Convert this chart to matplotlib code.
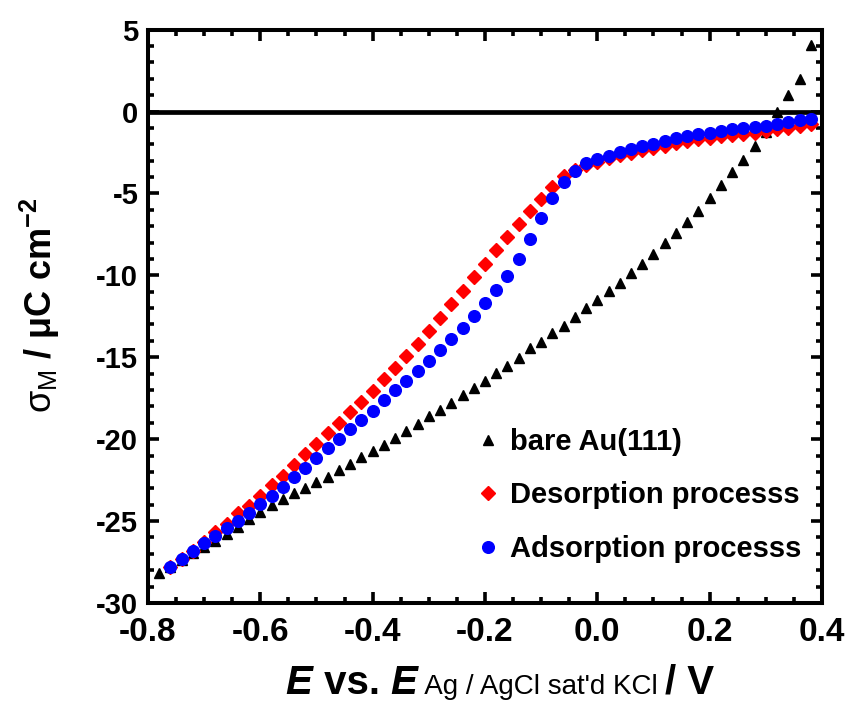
import matplotlib
matplotlib.use("Agg")
import matplotlib.pyplot as plt
from matplotlib import font_manager
from matplotlib.ticker import MultipleLocator
from matplotlib.offsetbox import TextArea, HPacker, AnchoredOffsetbox
import numpy as np

# ---------------- data ----------------
E_bare = [-0.78, -0.76, -0.74, -0.72, -0.70, -0.68, -0.66, -0.64, -0.62, -0.60,
          -0.58, -0.56, -0.54, -0.52, -0.50, -0.48, -0.46, -0.44, -0.42, -0.40,
          -0.38, -0.36, -0.34, -0.32, -0.30, -0.28, -0.26, -0.24, -0.22, -0.20,
          -0.18, -0.16, -0.14, -0.12, -0.10, -0.08, -0.06, -0.04, -0.02, 0.00,
          0.02, 0.04, 0.06, 0.08, 0.10, 0.12, 0.14, 0.16, 0.18, 0.20,
          0.22, 0.24, 0.26, 0.28, 0.30, 0.32, 0.34, 0.36, 0.38]
sigma_bare = [-28.15, -27.79, -27.38, -26.97, -26.57, -26.22, -25.81, -25.35, -24.88, -24.43,
              -24.02, -23.66, -23.27, -22.97, -22.64, -22.29, -21.89, -21.54, -21.10, -20.72,
              -20.34, -19.91, -19.49, -19.08, -18.59, -18.22, -17.78, -17.29, -16.90, -16.45,
              -15.95, -15.54, -15.03, -14.42, -14.05, -13.54, -13.07, -12.53, -12.02, -11.51,
              -10.96, -10.49, -9.88, -9.33, -8.72, -8.01, -7.44, -6.75, -6.06, -5.28,
              -4.49, -3.72, -2.96, -2.11, -1.23, 0.00, 1.01, 1.97, 4.04]

E_proc = [-0.76, -0.74, -0.72, -0.70, -0.68, -0.66, -0.64, -0.62, -0.60, -0.58,
          -0.56, -0.54, -0.52, -0.50, -0.48, -0.46, -0.44, -0.42, -0.40, -0.38,
          -0.36, -0.34, -0.32, -0.30, -0.28, -0.26, -0.24, -0.22, -0.20, -0.18,
          -0.16, -0.14, -0.12, -0.10, -0.08, -0.06, -0.04, -0.02, 0.00, 0.02,
          0.04, 0.06, 0.08, 0.10, 0.12, 0.14, 0.16, 0.18, 0.20, 0.22,
          0.24, 0.26, 0.28, 0.30, 0.32, 0.34, 0.36, 0.38]
sigma_desorption = [-27.79, -27.34, -26.83, -26.26, -25.69, -25.20, -24.53, -24.06, -23.47, -22.80,
                    -22.25, -21.58, -20.92, -20.28, -19.65, -18.99, -18.33, -17.72, -17.06, -16.35,
                    -15.64, -14.93, -14.19, -13.40, -12.63, -11.77, -10.96, -10.12, -9.29, -8.46,
                    -7.64, -6.89, -6.07, -5.34, -4.63, -3.94, -3.57, -3.27, -3.06, -2.86,
                    -2.66, -2.51, -2.37, -2.23, -2.11, -1.94, -1.80, -1.68, -1.60, -1.50,
                    -1.43, -1.37, -1.29, -1.19, -1.09, -0.99, -0.89, -0.76]
sigma_adsorption = [-27.79, -27.34, -26.83, -26.36, -25.92, -25.45, -24.98, -24.49, -23.98, -23.47,
                    -22.94, -22.33, -21.78, -21.16, -20.52, -19.99, -19.40, -18.83, -18.27, -17.61,
                    -17.00, -16.45, -15.82, -15.21, -14.56, -13.91, -13.24, -12.47, -11.71, -10.92,
                    -10.02, -9.03, -7.80, -6.48, -5.30, -4.28, -3.61, -3.16, -2.90, -2.70,
                    -2.49, -2.27, -2.11, -1.98, -1.78, -1.64, -1.50, -1.39, -1.29, -1.17,
                    -1.07, -1.01, -0.93, -0.86, -0.78, -0.66, -0.54, -0.46]

labels = ["bare Au(111)", "Desorption processs", "Adsorption processs"]
x_ticks = [-0.8, -0.6, -0.4, -0.2, 0.0, 0.2, 0.4]
y_ticks = [5, 0, -5, -10, -15, -20, -25, -30]

# ---------------- fonts ----------------
names = {f.name for f in font_manager.fontManager.ttflist}
BASE = "Liberation Sans" if "Liberation Sans" in names else "DejaVu Sans"

plt.rcParams["font.family"] = [BASE, "DejaVu Sans"]
plt.rcParams["mathtext.fontset"] = "custom"
plt.rcParams["mathtext.rm"] = BASE
plt.rcParams["mathtext.it"] = BASE + ":italic"
plt.rcParams["mathtext.bf"] = BASE + ":bold"

fig = plt.figure(figsize=(8.48, 7.08), dpi=100)
ax = fig.add_axes([148 / 848, 1 - 603 / 708, 674 / 848, 573.4 / 708])

ax.axhline(0, color="black", lw=3.4, zorder=1)

ax.plot(E_bare, sigma_bare, linestyle="none", marker="^", ms=7.6,
        color="black", label=labels[0], zorder=2)
ax.plot(E_proc, sigma_desorption, linestyle="none", marker="D", ms=7.6,
        color="#ff0000", label=labels[1], zorder=3)
ax.plot(E_proc, sigma_adsorption, linestyle="none", marker="o", ms=8.4,
        color="#0000ff", label=labels[2], zorder=4)

ax.set_xlim(-0.8, 0.4)
ax.set_ylim(-30, 5)
ax.set_xticks(x_ticks)
ax.set_yticks(y_ticks)
ax.xaxis.set_minor_locator(MultipleLocator(0.05))
ax.yaxis.set_minor_locator(MultipleLocator(1))
ax.set_xticklabels([f"{v:.1f}" for v in x_ticks])
ax.set_yticklabels([str(v) for v in y_ticks])

for s in ax.spines.values():
    s.set_linewidth(2.9)
ax.tick_params(which="both", direction="in", top=True, right=True, width=2.6)
ax.tick_params(which="major", length=8)
ax.tick_params(which="minor", length=4.5)
ax.tick_params(axis="y", labelsize=21, pad=7)
ax.tick_params(axis="x", labelsize=24, pad=10)
for t in ax.get_yticklabels() + ax.get_xticklabels():
    t.set_fontweight("bold")

# legend
leg = ax.legend(loc="upper left", bbox_to_anchor=(0.484, 0.305), frameon=False,
                numpoints=1, handlelength=0.95, handletextpad=0.28,
                labelspacing=0.87, borderpad=0, borderaxespad=0,
                prop={"family": [BASE], "weight": "bold", "size": 21})

# y label
fig.text(40 / 848, 1 - 305 / 708,
         r"$\mathrm{\sigma_{M}}$ / μC cm$^{\mathbf{-2}}$",
         rotation=90, ha="center", va="center", fontsize=26, fontweight="bold")

# x label built from pieces
big = 29
small = 20
parts = [
    TextArea("E", textprops=dict(family=[BASE], weight="bold", style="italic", size=big)),
    TextArea(" vs. ", textprops=dict(family=[BASE], weight="bold", size=big)),
    TextArea("E", textprops=dict(family=[BASE], weight="bold", style="italic", size=big)),
    TextArea(" Ag / AgCl sat'd KCl ", textprops=dict(family=[BASE], weight="normal", size=small)),
    TextArea("/ V", textprops=dict(family=[BASE], weight="bold", size=big)),
]
box = HPacker(children=parts, align="baseline", pad=0, sep=0)
anch = AnchoredOffsetbox(loc="center", child=box, frameon=False, pad=0, borderpad=0,
                         bbox_to_anchor=(500 / 848, 1 - 683 / 708),
                         bbox_transform=fig.transFigure)
fig.add_artist(anch)

fig.savefig("out.png", dpi=100)
